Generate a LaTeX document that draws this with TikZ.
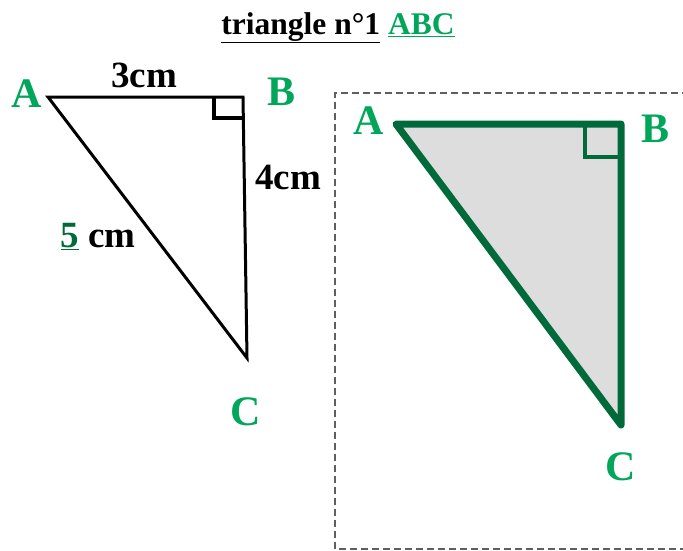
\documentclass[tikz,border=0pt]{standalone}
\usepackage{fontspec}
\setmainfont{Liberation Serif}
\usepackage{xcolor}
\begin{document}
\begin{tikzpicture}[x=1pt, y=-1pt, every node/.style={font=\bfseries, inner sep=0pt}]
			% Define colors
			\definecolor{ptgreen}{RGB}{0, 166, 90}
			\definecolor{sidegreen}{RGB}{0, 106, 58}
			\definecolor{fillgray}{RGB}{221, 221, 221}
			\definecolor{framegray}{RGB}{95, 95, 95}

			% Styles
			\tikzstyle{vertex_lbl} = [text=ptgreen, anchor=base, font=\fontsize{42}{42}\selectfont\bfseries]
			\tikzstyle{side_lbl} = [text=black, anchor=base, font=\fontsize{37}{37}\selectfont\bfseries]
			\tikzstyle{thin_side} = [draw=black, line width=3pt, line join=miter]
			\tikzstyle{thick_side} = [draw=sidegreen, line width=7pt, line join=round, line cap=round]
			\tikzstyle{frame_line} = [draw=framegray, line width=1.1pt, dash pattern=on 7pt off 4pt]

			\useasboundingbox (0,0) rectangle (683,550);

			% Title
			\node[anchor=base, font=\fontsize{31.5}{31.5}\selectfont\bfseries] (title) at (338,34) {\underline{triangle n°1} \textcolor{ptgreen}{\underline{ABC}}};

			% Left triangle (sketch)
			\coordinate (lA) at (48,97);
			\coordinate (lB) at (243,97);
			\coordinate (lC) at (247,358);
			\draw[thin_side] (lA) -- (lB) -- (lC) -- cycle;
			\draw[thin_side, line width=3.5pt] (214,97) -- (214,118) -- (243,118);

			\node[vertex_lbl] (lAlbl) at (27,107) {A};
			\node[vertex_lbl] (lBlbl) at (282,105) {B};
			\node[vertex_lbl] (lClbl) at (246,425) {C};
			\node[side_lbl] (ab) at (144,87) {3cm};
			\node[side_lbl] (bc) at (288,189) {4cm};
			\node[side_lbl] (ac) at (98,247) {\textcolor{sidegreen}{\underline{5}} cm};

			% Dashed frame
			\coordinate (fTR) at (700,93);
			\coordinate (fTL) at (335,93);
			\coordinate (fBL) at (335,549);
			\coordinate (fBR) at (700,549);
			\draw[frame_line] (fTR) -- (fTL) -- (fBL) -- (fBR);

			% Right triangle (true size)
			\coordinate (rA) at (396,124);
			\coordinate (rB) at (621,124);
			\coordinate (rC) at (621,425);
			\fill[fillgray] (rA) -- (rB) -- (rC) -- cycle;
			\draw[draw=sidegreen, line width=3.5pt] (621,157) -- (585,157) -- (585,124);
			\draw[thick_side] (rA) -- (rB) -- (rC) -- cycle;

			\node[vertex_lbl] (rAlbl) at (369,134) {A};
			\node[vertex_lbl] (rBlbl) at (655,142) {B};
			\node[vertex_lbl] (rClbl) at (621,480) {C};

		\end{tikzpicture}
\end{document}
